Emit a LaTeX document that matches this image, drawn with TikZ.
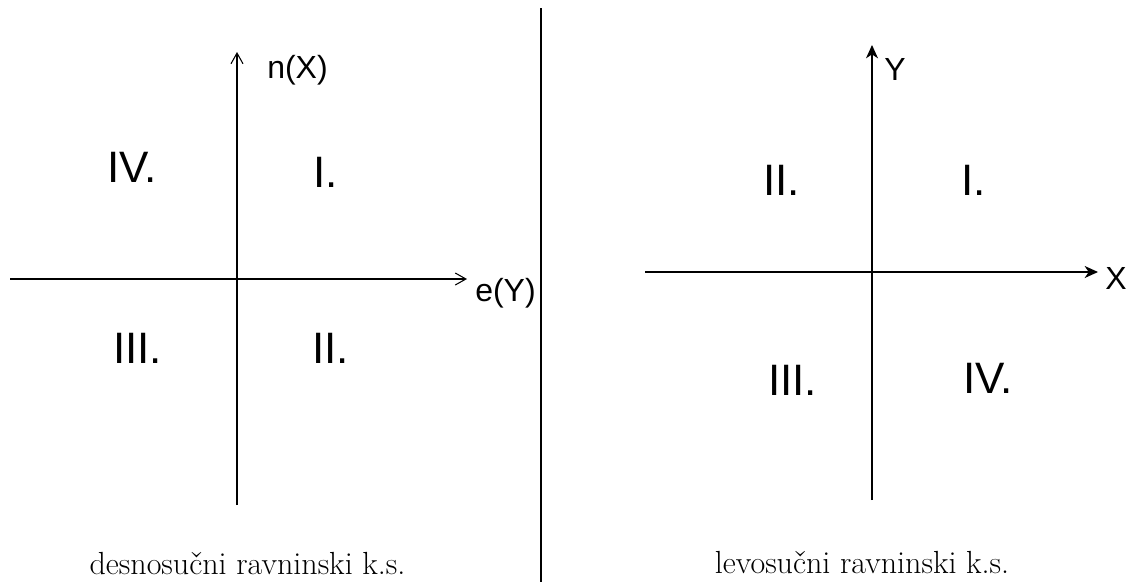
\documentclass[tikz,border=0pt]{standalone}
\usepackage{fontspec}
\setmainfont{Latin Modern Roman}
\newfontfamily\labelfont{Liberation Sans}
\usetikzlibrary{arrows.meta}
\begin{document}
\begin{tikzpicture}[x=0.75pt,y=-0.75pt,
  axis/.style={line width=0.8pt},
  barb/.style={-{Straight Barb[length=8pt,width=9pt]}},
  stl/.style={-{Stealth[length=10pt,width=9pt,inset=3pt]}},
  quad/.style={font=\labelfont\fontsize{33}{38}\selectfont,inner sep=0pt,anchor=base west},
  axlbl/.style={font=\labelfont\fontsize{24}{28}\selectfont,inner sep=0pt,anchor=base west},
  caption/.style={font=\fontsize{24}{28}\selectfont,inner sep=0pt,anchor=base}]
\useasboundingbox (0,0) rectangle (1134,582);
% divider
\draw[line width=1.5pt] (541,8) -- (541,582);
% left system
\coordinate (lvs) at (237,505);
\coordinate (lve) at (237,52);
\coordinate (lhs) at (10,279);
\coordinate (lhe) at (467,279);
\draw[axis,barb] (lvs) -- (lve);
\draw[axis,barb] (lhs) -- (lhe);
\node[axlbl] (nX) at (267,78) {n(X)};
\node[axlbl] (eY) at (475,301) {e(Y)};
\node[quad] (lIV) at (107,182) {IV.};
\node[quad] (lI) at (313,187) {I.};
\node[quad] (lIII) at (113,363) {III.};
\node[quad] (lII) at (312,363) {II.};
\node[caption] (lcap) at (247.5,574) {desnosučni ravninski k.s.};
% right system
\coordinate (rvs) at (872,500);
\coordinate (rve) at (872,45);
\coordinate (rhs) at (645,272);
\coordinate (rhe) at (1098,272);
\draw[axis,stl] (rvs) -- (rve);
\draw[axis,stl] (rhs) -- (rhe);
\node[axlbl] (Yl) at (884,80) {Y};
\node[axlbl] (Xl) at (1105,289) {X};
\node[quad] (rII) at (763,195) {II.};
\node[quad] (rI) at (961,195) {I.};
\node[quad] (rIII) at (768,395) {III.};
\node[quad] (rIV) at (963,393) {IV.};
\node[caption] (rcap) at (862,573) {levosučni ravninski k.s.};
\end{tikzpicture}
\end{document}
